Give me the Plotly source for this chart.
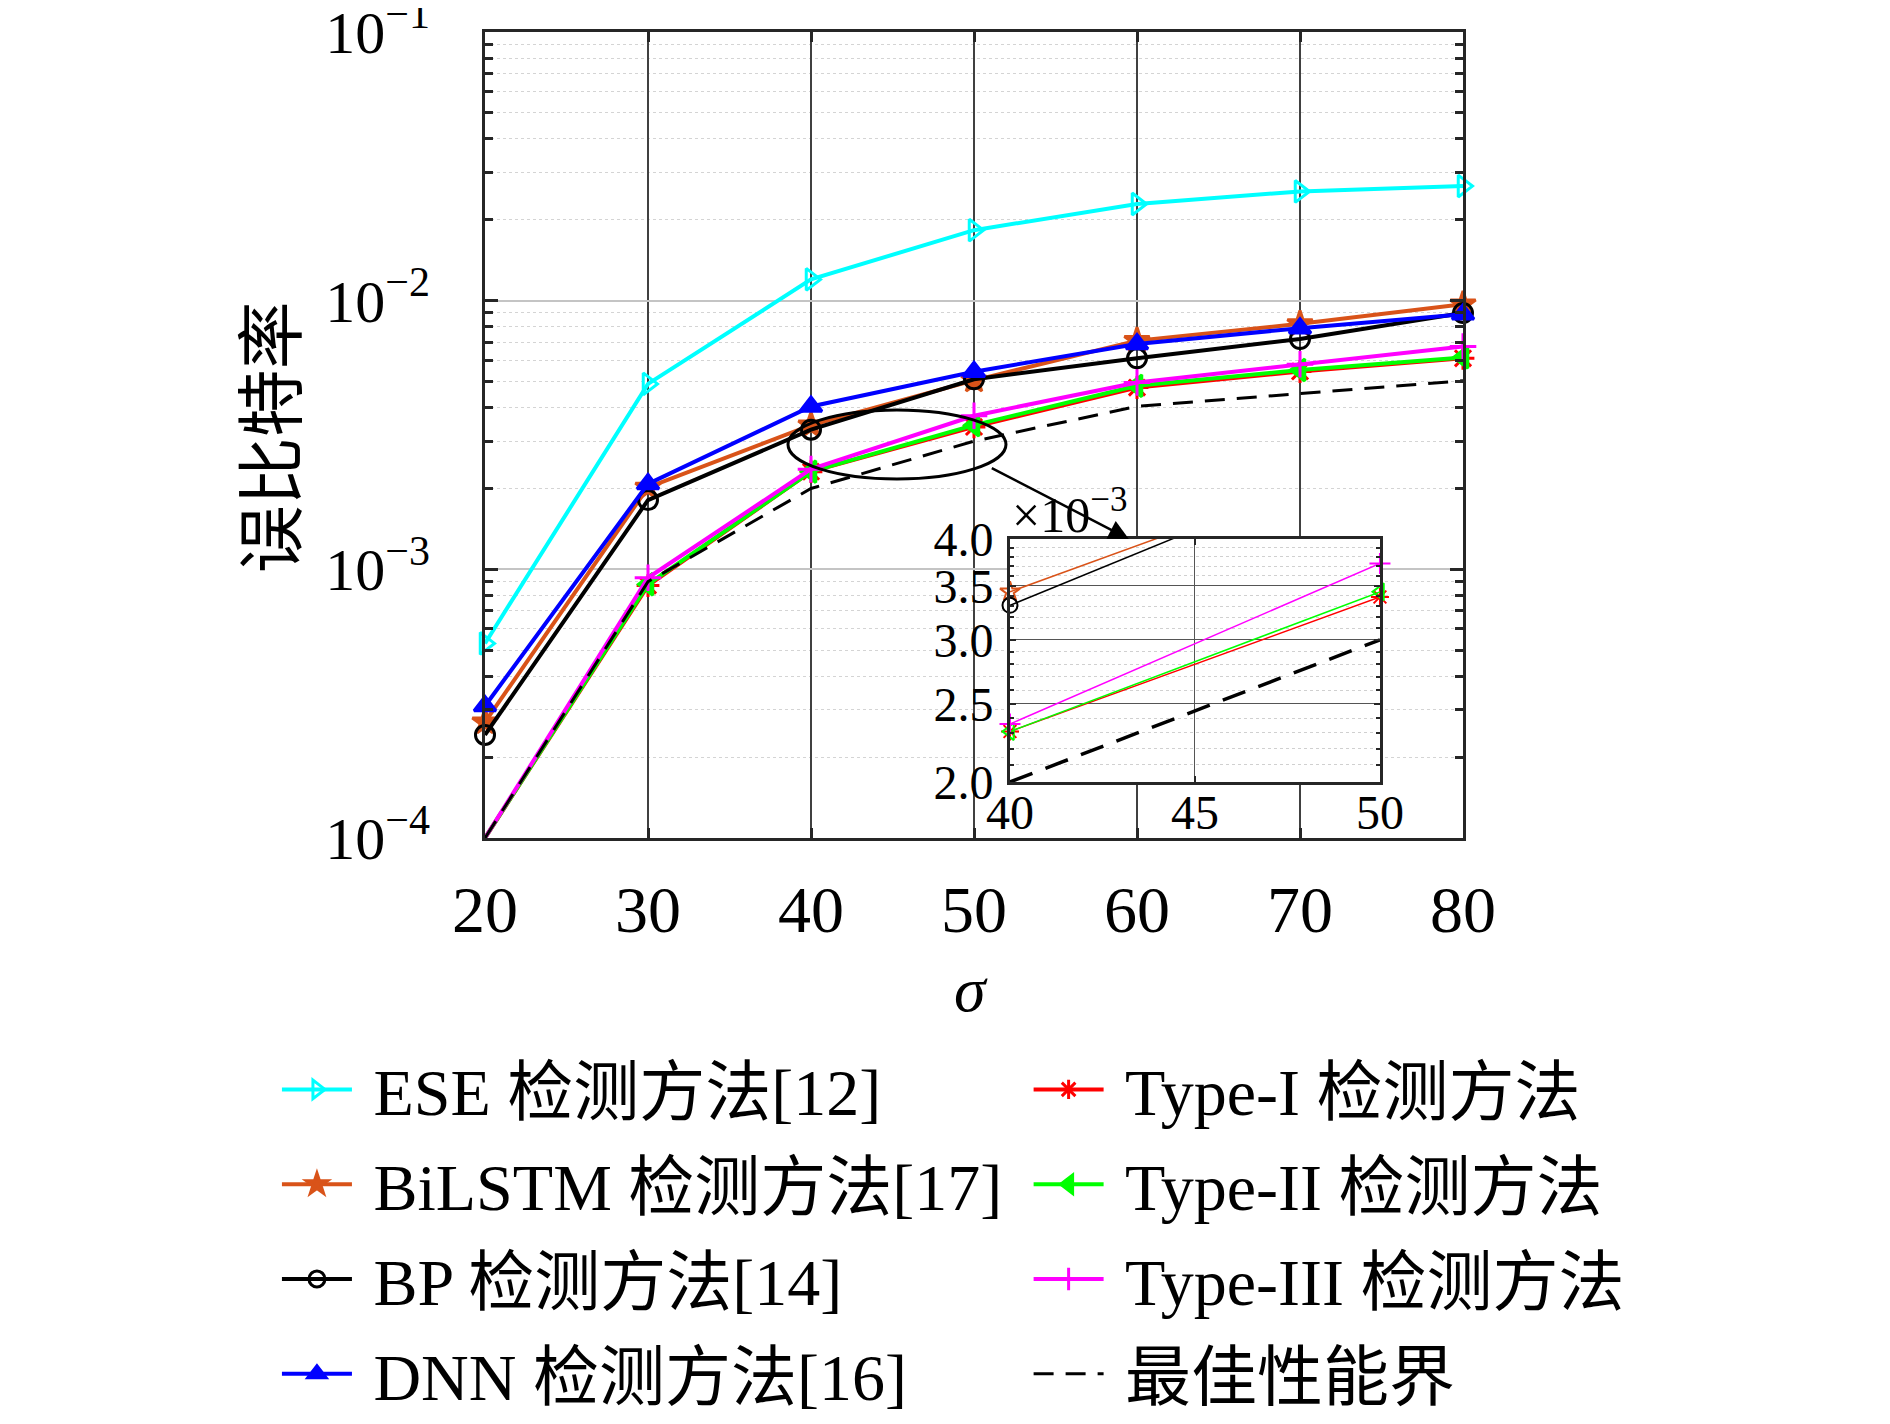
import math
import plotly.graph_objects as go

# sigma values on the x axis
sigma = [20, 30, 40, 50, 60, 70, 80]

# bit error rate
ber_ese = [5.3e-4, 4.9e-3, 1.2e-2, 1.83e-2, 2.29e-2, 2.55e-2, 2.67e-2]
ber_bilstm = [2.7e-4, 2.02e-3, 3.44e-3, 5.05e-3, 7.1e-3, 8.2e-3, 9.7e-3]
ber_bp = [2.42e-4, 1.81e-3, 3.31e-3, 5.1e-3, 6.1e-3, 7.2e-3, 9.0e-3]
ber_dnn = [3.1e-4, 2.08e-3, 4.04e-3, 5.44e-3, 6.9e-3, 7.9e-3, 8.9e-3]
ber_type1 = [1.0e-4, 8.7e-4, 2.31e-3, 3.39e-3, 4.75e-3, 5.45e-3, 6.1e-3]
ber_type2 = [1.0e-4, 8.8e-4, 2.31e-3, 3.44e-3, 4.82e-3, 5.52e-3, 6.15e-3]
ber_type3 = [1.0e-4, 9.3e-4, 2.36e-3, 3.73e-3, 4.96e-3, 5.8e-3, 6.75e-3]
ber_best = [1.0e-4, 9.0e-4, 2.0e-3, 3.0e-3, 4.04e-3, 4.52e-3, 5.03e-3]

names = ["ESE 检测方法[12]", "BiLSTM 检测方法[17]", "BP 检测方法[14]", "DNN 检测方法[16]",
         "Type-I 检测方法", "Type-II 检测方法", "Type-III 检测方法", "最佳性能界"]

y_ticks = [1e-4, 1e-3, 1e-2, 1e-1]
y_ticktext = ["10<sup>−4</sup>", "10<sup>−3</sup>", "10<sup>−2</sup>", "10<sup>−1</sup>"]

# inset (zoom) window
inset_x = [40, 45, 50]
inset_y = [2.0e-3, 2.5e-3, 3.0e-3, 3.5e-3, 4.0e-3]
inset_ytext = ["2.0", "2.5", "3.0", "3.5", "4.0"]

FONT = "Liberation Serif, Noto Sans CJK SC, serif"
AX = "#262626"
GAP = "\u00a0"  # small gap between legend line and label

series = [
    # data, colour, main symbol, inset symbol, legend
    (ber_ese, "#00FFFF", "triangle-right-open", None, "legend"),
    (ber_bilstm, "#D95319", "star", "star-open", "legend"),
    (ber_bp, "#000000", "circle-open", "circle-open", "legend"),
    (ber_dnn, "#0000FF", "triangle-up", "triangle-up-open", "legend"),
    (ber_type1, "#FF0000", "asterisk-open", "asterisk-open", "legend2"),
    (ber_type2, "#00FF00", "triangle-left", "triangle-left-open", "legend2"),
    (ber_type3, "#FF00FF", "cross-thin-open", "cross-thin-open", "legend2"),
]

fig = go.Figure()

y_floor = 1e-4
for i, (vals, col, sym, _, leg) in enumerate(series):
    sizes = [0 if v <= y_floor else 19 for v in vals]
    fig.add_trace(go.Scatter(
        x=sigma, y=vals, name=GAP + names[i], mode="lines+markers",
        line=dict(color=col, width=4),
        marker=dict(symbol=sym, size=sizes, color=col, opacity=1,
                    line=dict(color=col, width=3)),
        legend=leg, legendgroup=names[i], cliponaxis=False,
    ))

fig.add_trace(go.Scatter(
    x=sigma, y=ber_best, name=GAP + names[7], mode="lines",
    line=dict(color="black", width=3, dash="20px,12px"),
    legend="legend2", legendgroup=names[7],
))

# inset copies, only the points that fall inside the zoom window
lo, hi = inset_y[0], inset_y[-1]
for i, (vals, col, _, isym, _) in enumerate(series):
    if isym is None:
        continue
    xs = [s for s in sigma if 40 <= s <= 50]
    ys = [v for s, v in zip(sigma, vals) if 40 <= s <= 50]
    sizes = [15 if lo <= v <= hi * 1.02 else 0 for v in ys]
    fig.add_trace(go.Scatter(
        x=xs, y=ys, mode="lines+markers", showlegend=False,
        line=dict(color=col, width=1.5),
        marker=dict(symbol=isym, size=sizes, color=col, opacity=1,
                    line=dict(color=col, width=2)),
        xaxis="x2", yaxis="y2", cliponaxis=False,
    ))
fig.add_trace(go.Scatter(
    x=[s for s in sigma if 40 <= s <= 50],
    y=[v for s, v in zip(sigma, ber_best) if 40 <= s <= 50],
    mode="lines", showlegend=False,
    line=dict(color="black", width=3.5, dash="24px,14px"),
    xaxis="x2", yaxis="y2",
))

minor_main = [m * 10 ** e for e in range(-4, -1) for m in range(2, 10)]
minor_inset = [round(2.0e-3 + k * 1e-4, 5) for k in range(1, 20) if k % 5 != 0]

# page body adds 8px, so the figure is drawn 8px smaller
W, H = 1882, 1416

fig.update_layout(
    width=W, height=H,
    margin=dict(l=477, r=427, t=24, b=586, autoexpand=False),
    paper_bgcolor="white", plot_bgcolor="white",
    font=dict(family=FONT, color="black", size=60),
    xaxis=dict(
        range=[20, 80], tickvals=sigma, ticks="inside", ticklen=10, tickwidth=3,
        tickcolor=AX, showline=True, linewidth=3, linecolor=AX, mirror="ticks",
        showgrid=True, gridcolor="#404040", gridwidth=1.5, zeroline=False,
        tickfont=dict(size=66), ticklabelstandoff=12,
    ),
    yaxis=dict(
        type="log", range=[-4.00001, -0.99999], tickvals=y_ticks, ticktext=y_ticktext,
        ticks="inside", ticklen=13, tickwidth=3, tickcolor=AX,
        showline=True, linewidth=3, linecolor=AX, mirror="ticks",
        showgrid=True, gridcolor="#c4c4c4", gridwidth=1.5, zeroline=False,
        tickfont=dict(size=60), ticklabelstandoff=40, ticklabeloverflow="allow",
        minor=dict(tickvals=minor_main, ticks="inside", ticklen=8, tickwidth=3,
                   tickcolor=AX, showgrid=True, gridcolor="#d4d4d4",
                   gridwidth=1, griddash="dot"),
    ),
    xaxis2=dict(
        domain=[0.5368, 0.9151], anchor="y2", range=[40, 50], tickvals=inset_x,
        ticks="inside", ticklen=6, tickwidth=2, tickcolor=AX,
        showline=True, linewidth=3, linecolor=AX, mirror="ticks",
        showgrid=True, gridcolor="#555555", gridwidth=1, zeroline=False,
        tickfont=dict(size=48), ticklabelstandoff=-14,
    ),
    yaxis2=dict(
        domain=[0.0695, 0.371], anchor="x2", type="log",
        range=[math.log10(lo), math.log10(hi)], tickvals=inset_y, ticktext=inset_ytext,
        ticks="inside", ticklen=6, tickwidth=2, tickcolor=AX,
        showline=True, linewidth=3, linecolor=AX, mirror="ticks",
        showgrid=True, gridcolor="#555555", gridwidth=1, zeroline=False,
        tickfont=dict(size=48), ticklabelstandoff=4,
        minor=dict(tickvals=minor_inset, ticks="inside", ticklen=4, tickwidth=2,
                   tickcolor=AX, showgrid=True, gridcolor="#d0d0d0",
                   gridwidth=1, griddash="dot"),
    ),
    legend=dict(
        xref="container", yref="container", x=0.1429, y=0.2712,
        xanchor="left", yanchor="top", orientation="v",
        font=dict(size=66, family=FONT), itemwidth=70, tracegroupgap=6,
        bgcolor="rgba(0,0,0,0)", traceorder="grouped",
    ),
    legend2=dict(
        xref="container", yref="container", x=0.5423, y=0.2712,
        xanchor="left", yanchor="top", orientation="v",
        font=dict(size=66, family=FONT), itemwidth=70, tracegroupgap=6,
        bgcolor="rgba(0,0,0,0)", traceorder="grouped",
    ),
    shapes=[
        # white backing for the inset
        dict(type="rect", xref="x2 domain", yref="y2 domain", x0=0, x1=1,
             y0=0, y1=1, fillcolor="white", line=dict(width=0), layer="below"),
        # ellipse around the zoomed region
        dict(type="circle", xref="paper", yref="paper", x0=0.3098, x1=0.5327,
             y0=0.4454, y1=0.531, line=dict(color="black", width=3)),
    ],
    annotations=[
        dict(x=59.5, y=-2.887, xref="x", yref="y", ax=51.0, ay=-2.62,
             axref="x", ayref="y", showarrow=True, arrowhead=2, arrowsize=1.6,
             arrowwidth=2.5, arrowcolor="black", text=""),
        dict(x=0, y=1, xref="x2 domain", yref="y2 domain", xanchor="left",
             yanchor="bottom", showarrow=False, text="×10<sup>−3</sup>",
             font=dict(size=50), yshift=-6),
        dict(x=0.497, y=-0.1875, xref="paper", yref="paper", xanchor="center",
             yanchor="middle", showarrow=False, text="<i>σ</i>", font=dict(size=64)),
        dict(x=-0.223, y=0.497, xref="paper", yref="paper", xanchor="center",
             yanchor="middle", showarrow=False, text="误比特率", textangle=-90,
             font=dict(size=68, family="Noto Sans CJK SC")),
    ],
)

fig.write_html("out.html")
